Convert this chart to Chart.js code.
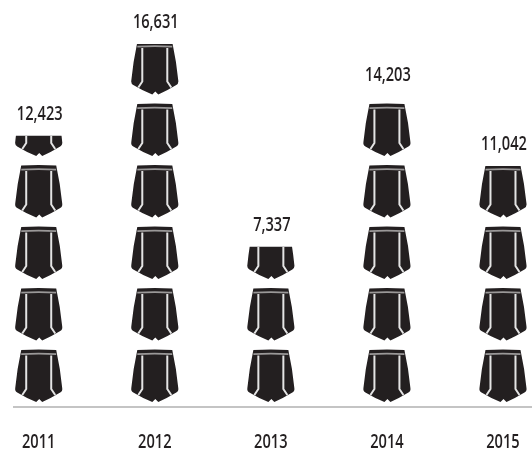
<!DOCTYPE html>
<html>
<head>
<meta charset="utf-8">
<style>
  html, body { margin: 0; padding: 0; background: #fff; }
  canvas { display: block; }
</style>
<script src="https://cdn.jsdelivr.net/npm/chart.js@4"></script>
</head>
<body>
<canvas id="chart" width="532" height="456"></canvas>
<script>
const years = [2011, 2012, 2013, 2014, 2015];
const values = [12423, 16631, 7337, 14203, 11042];
const valuesPerIcon = 2817;

const textFont = '600 19px "Open Sans", sans-serif';
const textColor = '#231f20';
const iconColor = '#231f20';

// one pair of shorts, 47 wide and 52 tall, origin at its top left
const iconBody = new Path2D('M6 0 Q23.5 -1 41 0 Q45 18 47 38 Q47.5 41 45 42.5 Q36 48 27 52 L24 49 L21 52 Q11 48 2 42.5 Q-0.5 41 0 38 Q2 18 6 0 Z');
const iconStripes = new Path2D('M11 5.5 L11 39 L7 45 M36 5.5 L36 39 L40 45');
const iconBand = new Path2D('M6 4.2 Q23.5 3.2 41 4.2');

function drawIcon(ctx, x, bottom) {
    ctx.save();
    ctx.translate(x - 23.5, bottom - 52);
    ctx.fillStyle = iconColor;
    ctx.fill(iconBody);
    ctx.lineWidth = 1.8;
    ctx.strokeStyle = '#9a9898';
    ctx.stroke(iconBand);
    ctx.lineWidth = 2;
    ctx.strokeStyle = '#e4e4e4';
    ctx.stroke(iconStripes);
    ctx.restore();
}

// the labels are set in a narrowed face, so squeeze the text sideways
function drawNarrowText(ctx, text, x, y) {
    ctx.save();
    ctx.translate(x, y);
    ctx.scale(0.77, 1);
    ctx.fillStyle = textColor;
    ctx.font = textFont;
    ctx.textAlign = 'center';
    ctx.textBaseline = 'middle';
    ctx.fillText(text, 0, 0);
    ctx.restore();
}

// fills each bar with a column of icons, cut off at the bar's height
const iconColumns = {
    id: 'iconColumns',
    afterDatasetsDraw(chart) {
        const { ctx, scales } = chart;
        const period = scales.y.getPixelForValue(0) - scales.y.getPixelForValue(valuesPerIcon);
        chart.getDatasetMeta(0).data.forEach((bar, i) => {
            ctx.save();
            ctx.beginPath();
            ctx.rect(bar.x - 30, bar.y, 60, bar.base - bar.y);
            ctx.clip();
            for (let bottom = bar.base - 5; bottom > bar.y; bottom -= period) {
                drawIcon(ctx, bar.x, bottom);
            }
            ctx.restore();

            drawNarrowText(ctx, values[i].toLocaleString('en-US'), bar.x + 1, bar.y - 21);
        });
        scales.x.ticks.forEach((tick) => {
            drawNarrowText(ctx, tick.label, scales.x.getPixelForValue(tick.value), 443);
        });
    }
};

new Chart(document.getElementById('chart'), {
    type: 'bar',
    data: {
        datasets: [{
            data: years.map((year, i) => ({ x: year, y: values[i] })),
            backgroundColor: 'rgba(0,0,0,0)',
            barThickness: 47
        }]
    },
    options: {
        responsive: false,
        animation: false,
        layout: { padding: { left: 14 } },
        plugins: { legend: { display: false }, tooltip: { enabled: false } },
        scales: {
            x: {
                type: 'linear',
                offset: false,
                min: 2010.787,
                max: 2015.25,
                grid: { display: false },
                border: { display: true, color: '#c4c4c4', width: 2 },
                afterBuildTicks: (scale) => { scale.ticks = years.map(value => ({ value })); },
                afterFit: (scale) => { scale.height = 49; },
                ticks: {
                    display: false,
                    autoSkip: false,
                    callback: (value) => String(value)
                }
            },
            y: {
                display: false,
                min: 0,
                max: 18644
            }
        }
    },
    plugins: [iconColumns]
});
</script>
</body>
</html>
